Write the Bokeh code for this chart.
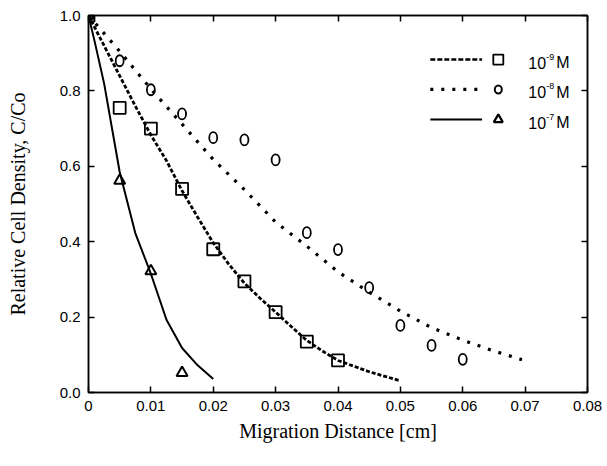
from bokeh.plotting import figure
from bokeh.models import Range1d, LinearAxis, FixedTicker, Label, Title
from bokeh.embed import file_html
from bokeh.resources import INLINE

# ---------------- data ----------------
# measured points
x_obs_9 = [0.0, 0.005, 0.01, 0.015, 0.02, 0.025, 0.03, 0.035, 0.04]
y_obs_9 = [1.0, 0.755, 0.70, 0.54, 0.38, 0.295, 0.213, 0.135, 0.085]

x_obs_8 = [0.0, 0.005, 0.01, 0.015, 0.02, 0.025, 0.03, 0.035, 0.04, 0.045, 0.05, 0.055, 0.06]
y_obs_8 = [1.0, 0.88, 0.803, 0.739, 0.676, 0.670, 0.617, 0.424, 0.379, 0.278, 0.178, 0.125, 0.088]

x_obs_7 = [0.0, 0.005, 0.01, 0.015]
y_obs_7 = [1.0, 0.562, 0.322, 0.052]

# model curves
x_fit_9 = [0.0, 0.0025, 0.005, 0.0075, 0.01, 0.0125, 0.015, 0.0175, 0.02, 0.0225, 0.025,
           0.0275, 0.03, 0.0325, 0.035, 0.0375, 0.04, 0.0425, 0.045, 0.0475, 0.05]
y_fit_9 = [1.0, 0.92, 0.84, 0.76, 0.683, 0.615, 0.535, 0.465, 0.397, 0.34, 0.29,
           0.25, 0.213, 0.175, 0.138, 0.11, 0.085, 0.07, 0.055, 0.043, 0.031]

x_fit_8 = [0.0, 0.005, 0.01, 0.015, 0.02, 0.025, 0.03, 0.035, 0.04, 0.045, 0.05,
           0.055, 0.06, 0.065, 0.0695]
y_fit_8 = [1.0, 0.905, 0.805, 0.712, 0.618, 0.538, 0.452, 0.388, 0.32, 0.266, 0.216,
           0.172, 0.139, 0.11, 0.087]

x_fit_7 = [0.0, 0.001, 0.0025, 0.005, 0.0075, 0.01, 0.0125, 0.015, 0.0175, 0.02]
y_fit_7 = [1.0, 0.93, 0.82, 0.585, 0.423, 0.315, 0.193, 0.118, 0.072, 0.036]

x_ticks = [0, 0.01, 0.02, 0.03, 0.04, 0.05, 0.06, 0.07, 0.08]
x_tick_labels = ["0", "0.01", "0.02", "0.03", "0.04", "0.05", "0.06", "0.07", "0.08"]
y_ticks = [0, 0.2, 0.4, 0.6, 0.8, 1.0]
y_tick_labels = ["0.0", "0.2", "0.4", "0.6", "0.8", "1.0"]

legend_base = ["10", "10", "10"]
legend_exp = ["-9", "-8", "-7"]

# ---------------- layout constants ----------------
LEG_X0, LEG_X1 = 0.0548, 0.0631
LEG_MX = 0.0657
LEG_TX = 0.0705
LEG_Y = [0.883, 0.804, 0.724]

SANS = "Liberation Sans"
SERIF = "Liberation Serif"

p = figure(frame_width=499, frame_height=377, output_backend="svg", toolbar_location=None,
           x_range=Range1d(0, 0.08), y_range=Range1d(0, 1.0),
           min_border_left=88, min_border_top=15, min_border_right=16, min_border_bottom=66)
p.background_fill_color = "white"
p.border_fill_color = "white"
p.outline_line_color = "black"
p.outline_line_width = 1.5
p.xgrid.visible = False
p.ygrid.visible = False

for ax, ticks, labels in ((p.xaxis[0], x_ticks, x_tick_labels), (p.yaxis[0], y_ticks, y_tick_labels)):
    ax.ticker = FixedTicker(ticks=ticks)
    ax.major_label_overrides = {t: l for t, l in zip(ticks, labels)}
    ax.major_tick_in = 6
    ax.major_tick_out = 0
    ax.minor_tick_line_color = None
    ax.axis_line_width = 1.5
    ax.major_tick_line_width = 1.5
    ax.major_label_text_font = SANS
    ax.major_label_text_font_size = "15px"
    ax.major_label_text_color = "black"
    ax.axis_label_text_font = SERIF
    ax.axis_label_text_font_size = "20px"
    ax.axis_label_text_font_style = "normal"
    ax.axis_label_text_color = "black"
    ax.major_label_standoff = 8

p.yaxis[0].axis_label = "Relative Cell Density, C/Co"
p.yaxis[0].axis_label_standoff = 28
p.xaxis[0].axis_label = None

for loc, ticks in (("right", y_ticks), ("above", x_ticks)):
    a = LinearAxis(ticker=FixedTicker(ticks=ticks), major_tick_in=6, major_tick_out=0,
                   minor_tick_line_color=None, axis_line_width=1.5, major_tick_line_width=1.5,
                   major_label_text_font_size="1px", major_label_text_color=None,
                   major_label_standoff=0)
    p.add_layout(a, loc)

# x axis title (offset to the right like the original)
p.add_layout(Title(text="Migration Distance [cm]", text_font=SERIF, text_font_size="20px",
                   text_font_style="normal", align="center", offset=25, standoff=9,
                   text_color="black"), "below")

# curves
p.line(x_fit_9, y_fit_9, line_color="black", line_width=2.8, line_dash="4 2")
p.line(x_fit_8, y_fit_8, line_color="black", line_width=3.2, line_dash="3 8")
p.line(x_fit_7, y_fit_7, line_color="black", line_width=2)

# observed markers
p.scatter(x_obs_9, y_obs_9, marker="square", size=12, fill_color=None, line_color="black", line_width=1.8)
p.ellipse(x_obs_8, y_obs_8, width=8, height=11, width_units="screen", height_units="screen",
          fill_color=None, line_color="black", line_width=1.8)
p.scatter(x_obs_7, y_obs_7, marker="triangle", size=11, fill_color=None, line_color="black", line_width=2)

# legend
dashes = ["5 2", "3 8", "solid"]
widths = [2.5, 3.2, 2]
for i in range(3):
    p.line([LEG_X0, LEG_X1], [LEG_Y[i], LEG_Y[i]], line_color="black", line_width=widths[i], line_dash=dashes[i])
p.scatter([LEG_MX], [LEG_Y[0]], marker="square", size=10, fill_color=None, line_color="black", line_width=1.8)
p.ellipse([LEG_MX], [LEG_Y[1]], width=7, height=8, width_units="screen", height_units="screen",
          fill_color=None, line_color="black", line_width=2)
p.scatter([LEG_MX], [LEG_Y[2]], marker="triangle", size=9, fill_color=None, line_color="black", line_width=2.2)
for i in range(3):
    p.add_layout(Label(x=LEG_TX, y=LEG_Y[i], y_offset=-3, text=legend_base[i], text_font=SANS,
                       text_font_size="16px", text_baseline="middle", text_color="black"))
    p.add_layout(Label(x=LEG_TX, y=LEG_Y[i], x_offset=18, y_offset=3, text=legend_exp[i], text_font=SANS,
                       text_font_size="9px", text_baseline="middle", text_color="black"))
    p.add_layout(Label(x=LEG_TX, y=LEG_Y[i], x_offset=28, y_offset=-3, text="M", text_font=SANS,
                       text_font_size="16px", text_baseline="middle", text_color="black"))

open("out.html", "w").write(file_html(p, INLINE))
